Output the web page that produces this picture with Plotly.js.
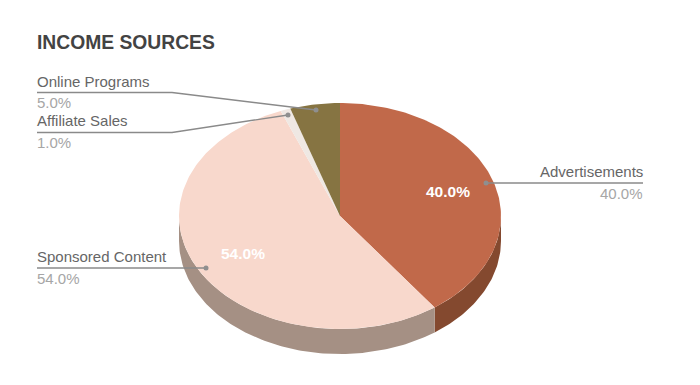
<!DOCTYPE html>
<html>
<head>
<meta charset="utf-8">
<script src="https://cdn.plot.ly/plotly-3.0.1.min.js"></script>
<style>html,body{margin:0;padding:0;background:#fff}#chart{width:700px;height:385px}</style>
</head>
<body>
<div id="chart"></div>
<script>
const categories = ["Advertisements", "Sponsored Content", "Affiliate Sales", "Online Programs"];
const values = [40, 54, 1, 5];
const topColors = ["#c1694a", "#f8d8cc", "#efe8e3", "#867442"];
const sideColors = ["#84492f", "#a59084", "#a59f9b", "#5d512e"];
const percentLabels = ["40.0%", "54.0%", "1.0%", "5.0%"];

// Pie geometry, in the pixel-like units of the hidden axes
const cx = 340, cy = 216, rx = 161, ry = 113, depth = 25;
const total = values.reduce((a, b) => a + b, 0);
const pt = (deg, drop) => {
  const a = deg * Math.PI / 180;
  return [cx + rx * Math.sin(a), cy - ry * Math.cos(a) + (drop || 0)];
};
const arc = (from, to, drop) => {
  const n = Math.max(2, Math.ceil(Math.abs(to - from)));
  const out = [];
  for (let i = 0; i <= n; i++) out.push(pt(from + (to - from) * i / n, drop));
  return out;
};
const poly = (points, color) => ({
  type: "scatter", mode: "lines", fill: "toself", fillcolor: color,
  x: points.map(p => p[0]), y: points.map(p => p[1]),
  line: {width: 0, color: color}, hoverinfo: "skip", showlegend: false
});

const traces = [];
let start = 0;
const topFaces = [];
values.forEach((v, i) => {
  const end = start + v / total * 360;
  const sideFrom = Math.max(start, 90), sideTo = Math.min(end, 270);
  if (sideTo > sideFrom) {
    traces.push(poly(arc(sideFrom, sideTo, 0).concat(arc(sideTo, sideFrom, depth)), sideColors[i]));
  }
  topFaces.push(poly([[cx, cy]].concat(arc(start, end, 0)).concat([[cx, cy]]), topColors[i]));
  start = end;
});
traces.push(...topFaces);

// Leader lines, running from the label side to the dot on the slice
const leaders = [
  {x: [643, 486], y: [183, 183]},
  {x: [37, 206], y: [268, 268]},
  {x: [37, 172, 288], y: [132.5, 132.5, 115]},
  {x: [37, 172, 316], y: [92.5, 92.5, 110]}
];
leaders.forEach(l => traces.push({
  type: "scatter", mode: "lines", x: l.x, y: l.y,
  line: {color: "#8a8a8a", width: 1.4}, hoverinfo: "skip", showlegend: false
}));
traces.push({
  type: "scatter", mode: "markers",
  x: leaders.map(l => l.x[l.x.length - 1]), y: leaders.map(l => l.y[l.y.length - 1]),
  marker: {color: "#8f8f8f", size: 5}, hoverinfo: "skip", showlegend: false
});

const FONT = "Liberation Sans, Arial, sans-serif";
const text = (x, y, s, anchor, color, size, bold) => ({
  xref: "x", yref: "y", x, y, text: bold ? "<b>" + s + "</b>" : s,
  showarrow: false, xanchor: anchor, yanchor: "middle",
  font: {family: FONT, size, color}
});
const LABEL = "#666666", PCT = "#a6a6a6";
const LEFT = 35, RIGHT = 645;
const annotations = [
  text(LEFT, 42.5, "INCOME SOURCES", "left", "#434343", 19.3, true),
  text(RIGHT, 171, categories[0], "right", LABEL, 15),
  text(RIGHT, 193, percentLabels[0], "right", PCT, 15),
  text(LEFT, 256, categories[1], "left", LABEL, 15),
  text(LEFT, 278, percentLabels[1], "left", PCT, 15),
  text(LEFT, 120, categories[2], "left", LABEL, 15),
  text(LEFT, 142, percentLabels[2], "left", PCT, 15),
  text(LEFT, 81, categories[3], "left", LABEL, 15),
  text(LEFT, 102, percentLabels[3], "left", PCT, 15),
  text(448, 191, percentLabels[0], "center", "#ffffff", 15.5, true),
  text(243, 253, percentLabels[1], "center", "#ffffff", 15.5, true)
];

const hidden = {visible: false, fixedrange: true, showgrid: false, zeroline: false};
Plotly.newPlot("chart", traces, {
  width: 700, height: 385,
  margin: {l: 0, r: 0, t: 0, b: 0},
  paper_bgcolor: "#ffffff", plot_bgcolor: "#ffffff",
  showlegend: false,
  xaxis: Object.assign({range: [0, 700]}, hidden),
  yaxis: Object.assign({range: [385, 0]}, hidden),
  annotations
}, {displayModeBar: false, staticPlot: true});
</script>
</body>
</html>
